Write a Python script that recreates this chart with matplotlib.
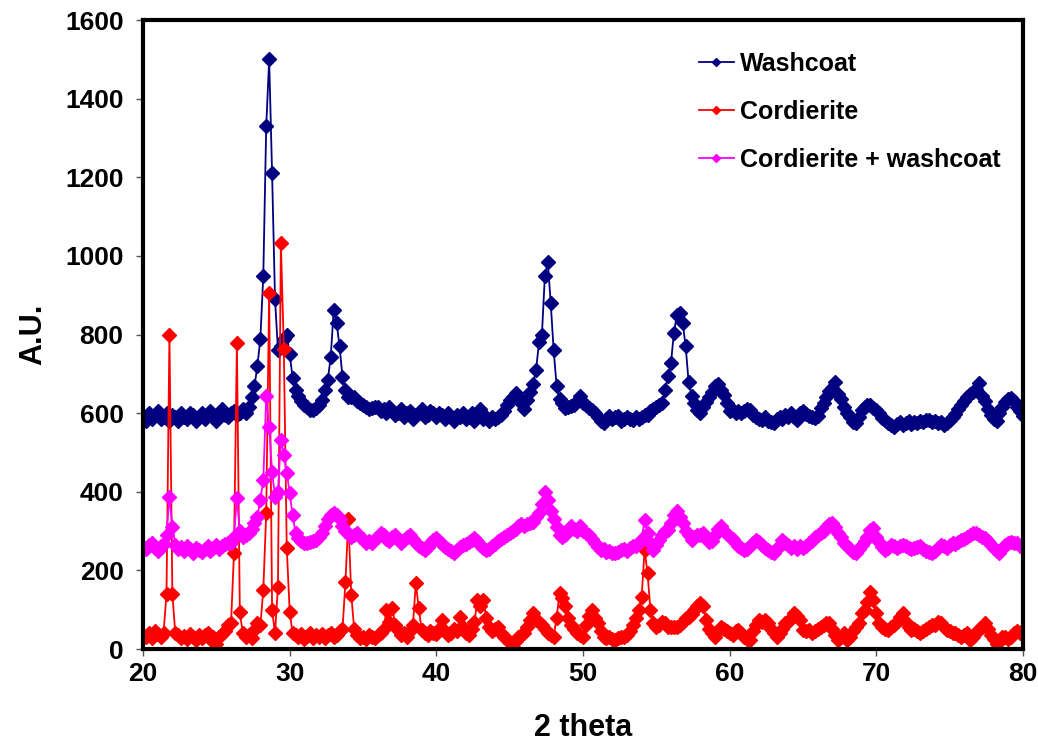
import numpy as np
import matplotlib
matplotlib.use("Agg")
import matplotlib.pyplot as plt

plt.rcParams['font.family'] = ['Liberation Sans', 'DejaVu Sans']
plt.rcParams['font.weight'] = 'bold'

# 2 theta from 20 to 80, step 0.2
two_theta = np.round(np.arange(20, 80.001, 0.2), 1)

washcoat = [
    590, 580, 600, 585, 595, 605, 585, 590, 600, 580,
    595, 590, 580, 600, 590, 585, 600, 595, 580, 590,
    600, 585, 595, 605, 590, 580, 600, 610, 595, 590,
    600, 605, 595, 600, 610, 600, 615, 642, 670, 720,
    790, 950, 1330, 1500, 1210, 890, 760, 770, 790, 800,
    750, 690, 660, 645, 630, 622, 615, 609, 608, 612,
    620, 634, 660, 685, 744, 862, 830, 770, 693, 660,
    642, 640, 642, 630, 627, 620, 615, 610, 612, 615,
    617, 605, 610, 600, 615, 605, 595, 600, 610, 590,
    600, 605, 585, 595, 600, 610, 590, 595, 605, 600,
    590, 600, 595, 585, 600, 590, 580, 595, 590, 600,
    585, 590, 600, 580, 590, 610, 585, 590, 580, 590,
    585, 590, 595, 605, 620, 634, 640, 651, 645, 625,
    610, 634, 655, 675, 710, 780, 800, 950, 985, 880,
    760, 670, 635, 625, 614, 615, 618, 622, 632, 643,
    627, 620, 612, 609, 600, 590, 580, 575, 585, 592,
    585, 590, 592, 580, 585, 590, 585, 583, 590, 585,
    590, 596, 596, 605, 610, 617, 620, 626, 660, 694,
    728, 805, 850, 856, 830, 770, 680, 645, 625, 609,
    600, 615, 628, 640, 655, 668, 673, 660, 647, 625,
    605, 609, 600, 605, 600, 605, 610, 609, 595, 590,
    585, 583, 590, 580, 578, 575, 585, 590, 585, 595,
    590, 600, 590, 583, 600, 605, 598, 592, 590, 588,
    592, 612, 626, 640, 656, 665, 679, 650, 635, 615,
    600, 590, 578, 575, 590, 609, 615, 620, 622, 612,
    609, 600, 588, 583, 575, 570, 566, 572, 578, 570,
    575, 580, 572, 578, 575, 580, 578, 582, 583, 578,
    580, 575, 578, 570, 575, 583, 590, 598, 610, 620,
    632, 640, 648, 655, 662, 677, 645, 630, 610, 595,
    585, 579, 600, 615, 628, 635, 639, 630, 617, 605,
    592,
]

cordierite = [
    35, 30, 40, 28, 45, 38, 30, 42, 140, 800,
    140, 40, 35, 28, 32, 25, 38, 30, 22, 35,
    28, 35, 40, 25, 30, 12, 30, 38, 45, 60,
    65, 244, 779, 95, 40, 30, 35, 28, 48, 65,
    60, 150, 346, 905, 99, 40, 159, 1034, 764, 257,
    95, 40, 35, 30, 38, 25, 32, 40, 28, 35,
    30, 38, 28, 35, 40, 30, 35, 45, 50, 170,
    330, 138, 50, 35, 28, 30, 25, 35, 30, 28,
    35, 40, 50, 99, 70, 104, 60, 48, 35, 40,
    30, 45, 60, 167, 104, 48, 40, 35, 45, 40,
    38, 50, 74, 45, 35, 40, 50, 45, 82, 55,
    40, 35, 50, 70, 125, 110, 125, 80, 55, 45,
    50, 57, 40, 30, 25, 15, 6, 20, 30, 35,
    40, 55, 75, 91, 75, 70, 60, 50, 40, 35,
    31, 80, 142, 130, 110, 80, 60, 50, 40, 35,
    31, 60, 85, 99, 80, 65, 45, 31, 28, 30,
    25, 23, 28, 31, 30, 35, 45, 60, 80, 99,
    133, 252, 193, 99, 65, 55, 60, 70, 65, 55,
    57, 55, 57, 62, 70, 78, 82, 90, 100, 110,
    116, 110, 74, 50, 40, 31, 45, 57, 50, 45,
    40, 35, 45, 48, 40, 30, 25, 23, 45, 60,
    74, 70, 74, 65, 50, 40, 31, 40, 50, 65,
    70, 80, 91, 85, 74, 48, 45, 48, 40, 45,
    50, 55, 60, 65, 65, 50, 35, 23, 30, 40,
    23, 30, 45, 55, 65, 91, 100, 120, 146, 125,
    91, 65, 57, 50, 48, 55, 60, 70, 82, 91,
    70, 57, 48, 50, 45, 40, 45, 50, 55, 60,
    62, 70, 65, 55, 48, 45, 40, 40, 35, 30,
    35, 40, 23, 30, 40, 50, 57, 65, 50, 35,
    25, 14, 20, 31, 30, 25, 31, 40, 45, 42,
    48,
]

cord_wash = [
    260, 255, 265, 270, 258, 250, 262, 268, 290, 388,
    311, 265, 255, 260, 250, 262, 255, 245, 258, 252,
    248, 255, 262, 250, 258, 265, 255, 262, 268, 270,
    270, 285, 385, 300, 285, 290, 295, 305, 320, 337,
    380, 430, 643, 566, 450, 388, 400, 532, 494, 448,
    397, 340, 295, 282, 275, 270, 269, 272, 275, 278,
    285, 295, 312, 330, 340, 346, 340, 330, 312, 300,
    295, 286, 290, 295, 285, 280, 270, 275, 270, 280,
    285, 295, 290, 280, 275, 285, 290, 280, 270, 278,
    285, 290, 280, 270, 262, 258, 252, 260, 270, 278,
    282, 275, 268, 260, 255, 250, 244, 252, 260, 265,
    268, 272, 278, 282, 275, 265, 258, 252, 255, 262,
    268, 275, 280, 285, 290, 295, 300, 305, 312, 318,
    312, 318, 320, 322, 335, 346, 370, 400, 380, 350,
    330, 310, 290, 286, 290, 300, 312, 305, 300, 312,
    300, 295, 290, 280, 270, 260, 252, 255, 248, 250,
    245, 244, 248, 252, 255, 250, 258, 262, 261, 270,
    280, 329, 295, 270, 252, 265, 278, 290, 300, 303,
    320, 340, 350, 335, 320, 300, 290, 278, 285, 290,
    290, 295, 285, 272, 275, 290, 305, 312, 300, 292,
    286, 280, 270, 262, 258, 252, 255, 262, 270, 278,
    272, 265, 258, 252, 248, 244, 255, 265, 278, 270,
    265, 258, 262, 255, 261, 258, 262, 270, 275, 285,
    290, 295, 300, 310, 318, 320, 310, 295, 285, 270,
    262, 255, 248, 244, 255, 265, 275, 286, 303, 307,
    285, 273, 260, 252, 258, 265, 262, 258, 261, 265,
    262, 258, 255, 256, 260, 262, 255, 250, 246, 244,
    250, 258, 265, 262, 258, 265, 270, 268, 273, 278,
    280, 285, 290, 295, 295, 290, 286, 282, 275, 265,
    258, 250, 244, 255, 265, 270, 273, 270, 269, 262,
    256,
]

fig = plt.figure(figsize=(10.38, 7.46), dpi=100)
ax = fig.add_axes([0.1378, 0.130, 0.8477, 0.843])

ax.plot(two_theta, washcoat, color='#000080', marker='D', ms=7.5, lw=1.3, label='Washcoat')
ax.plot(two_theta, cordierite, color='#FF0000', marker='D', ms=7.5, lw=1.3, label='Cordierite')
ax.plot(two_theta, cord_wash, color='#FF00FF', marker='D', ms=7.5, lw=1.3, label='Cordierite + washcoat')

ax.set_xlim(20, 80)
ax.set_ylim(0, 1600)
ax.set_xticks(range(20, 81, 10))
ax.set_yticks(range(0, 1601, 200))
ax.tick_params(direction='out', length=5, width=1, labelsize=19, color='#555555')
ax.tick_params(axis='y', pad=9)
ax.tick_params(axis='x', pad=4)
for lab in ax.get_xticklabels() + ax.get_yticklabels():
    lab.set_fontweight('bold')
for s in ax.spines.values():
    s.set_linewidth(3)

ax.set_xlabel('2 theta', fontsize=22, fontweight='bold', labelpad=20)
ax.set_ylabel('A.U.', fontsize=22, fontweight='bold', labelpad=12)

leg = ax.legend(loc='upper right', bbox_to_anchor=(1.0, 0.985), frameon=False,
                fontsize=18, markerscale=0.5, handlelength=1.4, labelspacing=0.95,
                handletextpad=0.25)
for t in leg.get_texts():
    t.set_fontweight('bold')

fig.savefig('out.png', dpi=100)
